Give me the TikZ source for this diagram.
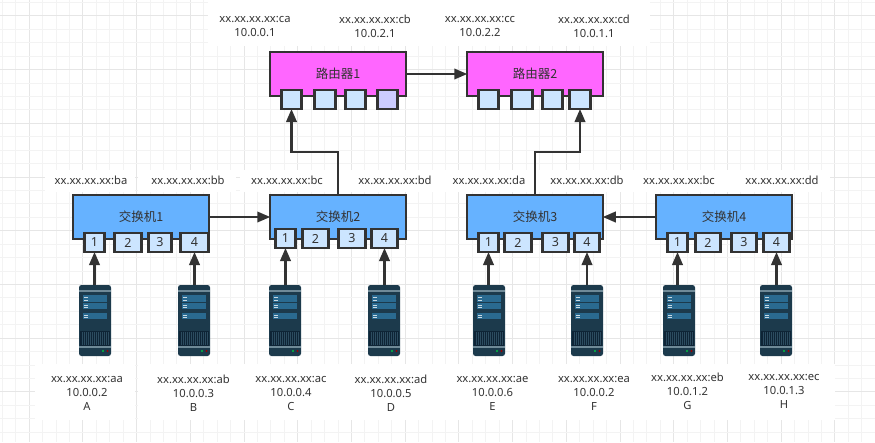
\documentclass[tikz,border=0pt]{standalone}
\usepackage{fontspec}
\setmainfont{Noto Sans}
\newfontfamily\cjkf{Noto Sans CJK SC}
\usetikzlibrary{arrows.meta}
\definecolor{ink}{HTML}{333333}
\definecolor{txt}{HTML}{333333}
\definecolor{gridminor}{HTML}{F3F3F3}
\definecolor{gridmajor}{HTML}{E6E6E6}
\definecolor{swblue}{HTML}{66B2FF}
\definecolor{rtpink}{HTML}{FF66FF}
\definecolor{portblue}{HTML}{CCE5FF}
\definecolor{portpurple}{HTML}{CCCCFF}
\definecolor{srvbody}{HTML}{1C3A4C}
\definecolor{srvband}{HTML}{6F8A98}
\definecolor{srvbar}{HTML}{2A6A90}
\definecolor{srvvent}{HTML}{0E2436}
\definecolor{srvline}{HTML}{2C4C60}
\tikzset{
  unitbox/.style={draw=ink,line width=2.3pt,outer sep=0pt,inner sep=0pt,minimum height=43.5pt,minimum width=135.5pt,text=txt,font=\cjkf\fontsize{12.5}{14}\selectfont},
  switchbox/.style={unitbox,fill=swblue},
  routerbox/.style={unitbox,fill=rtpink},
  portbox/.style={draw=ink,line width=2.2pt,outer sep=0pt,inner sep=0pt,minimum height=19pt,fill=portblue,text=txt,font=\fontsize{12.5}{14}\selectfont},
  maclabel/.style={align=center,inner sep=0pt,text=txt,font=\fontsize{11.2}{14}\selectfont},
  link/.style={draw=ink,line width=2.2pt,-{Triangle[length=13pt,width=10.5pt]}},
  serverbody/.style={fill=srvbody,rounded corners=2.5pt,minimum width=32pt,minimum height=71pt,inner sep=0pt,outer sep=0pt},
  srvdetail/.pic={
    \fill[srvband] (0,5) rectangle (32,7);
    \foreach \ya/\yb in {10/17,18/24,28/34}{
      \fill[srvbar] (4,\ya) rectangle (28,\yb);
      \fill[white!75!srvbar] (4.5,\ya+1.5) rectangle (9,\ya+2.5);
      \fill[white!75!srvbar] (4.5,\yb-2.5) rectangle (9,\yb-1.5);
    }
    \fill[srvvent] (1,46) rectangle (31,61);
    \foreach \k in {3,5,...,29}{\draw[srvline,line width=.5pt] (\k,47) -- (\k,60);}
    \fill[srvband] (0,61) rectangle (32,63);
    \fill[green!50!teal] (24,66) circle (1.1pt);
    \fill[red!60!black] (28.5,66) circle (1.1pt);
  }
}
\begin{document}
\begin{tikzpicture}[x=1pt,y=-1pt]
\useasboundingbox (0,0) rectangle (875,442);
\fill[white] (0,0) rectangle (875,442);
% grid
\foreach \n in {0,...,65}{
  \pgfmathsetmacro{\gx}{2.3+13.43*\n}
  \pgfmathtruncatemacro{\m}{mod(\n,4)}
  \ifnum\m=2 \draw[gridmajor,line width=1pt] (\gx,0) -- (\gx,442);
  \else \draw[gridminor,line width=1pt] (\gx,0) -- (\gx,442);\fi
}
\foreach \n in {0,...,32}{
  \pgfmathsetmacro{\gy}{2.5+13.43*\n}
  \pgfmathtruncatemacro{\m}{mod(\n,4)}
  \ifnum\m=1 \draw[gridmajor,line width=1pt] (0,\gy) -- (875,\gy);
  \else \draw[gridminor,line width=1pt] (0,\gy) -- (875,\gy);\fi
}
% white label backings
\fill[white] (208,0) rectangle (650,46);
\fill[white] (45,170) rectangle (135,192);
\fill[white] (138,170) rectangle (236,192);
\fill[white] (240,170) rectangle (830,192);
\fill[white] (35,364) rectangle (135,420);
\fill[white] (138,364) rectangle (835,420);
% routers
\node[routerbox] (r1) at (338,74) {路由器1};
\node[routerbox] (r2) at (535,74) {路由器2};
\node[portbox,minimum width=20pt,anchor=north] (r1a) at (291.5,90) {};
\node[portbox,minimum width=21pt,anchor=north] (r1b) at (325,90) {};
\node[portbox,minimum width=20pt,anchor=north] (r1c) at (355.5,90) {};
\node[portbox,minimum width=20pt,anchor=north,fill=portpurple] (r1d) at (387.5,90) {};
\node[portbox,minimum width=20pt,anchor=north] (r2a) at (488.5,90) {};
\node[portbox,minimum width=21pt,anchor=north] (r2b) at (522,90) {};
\node[portbox,minimum width=20pt,anchor=north] (r2c) at (552.5,90) {};
\node[portbox,minimum width=21pt,anchor=north] (r2d) at (580,90) {};
% switches
\node[switchbox] (s1) at (141,217) {交换机1};
\node[switchbox] (s2) at (338,217) {交换机2};
\node[switchbox] (s3) at (535,217) {交换机3};
\node[switchbox] (s4) at (724,217) {交换机4};
\node[portbox,minimum width=20pt,anchor=north] (p11) at (94.5,233) {1};
\node[portbox,minimum width=27pt,anchor=north] (p12) at (128,233) {2};
\node[portbox,minimum width=23pt,anchor=north] (p13) at (160,233) {3};
\node[portbox,minimum width=28pt,anchor=north] (p14) at (194.5,233) {4};
\node[portbox,minimum width=20pt,anchor=north] (p21) at (285.5,229) {1};
\node[portbox,minimum width=26pt,anchor=north] (p22) at (315.5,229) {2};
\node[portbox,minimum width=27pt,anchor=north] (p23) at (352,229) {3};
\node[portbox,minimum width=26pt,anchor=north] (p24) at (384.5,229) {4};
\node[portbox,minimum width=20pt,anchor=north] (p31) at (488.5,233) {1};
\node[portbox,minimum width=27pt,anchor=north] (p32) at (518,233) {2};
\node[portbox,minimum width=26pt,anchor=north] (p33) at (555.5,233) {3};
\node[portbox,minimum width=25pt,anchor=north] (p34) at (587,233) {4};
\node[portbox,minimum width=20pt,anchor=north] (p41) at (677.5,233) {1};
\node[portbox,minimum width=25pt,anchor=north] (p42) at (708,233) {2};
\node[portbox,minimum width=25pt,anchor=north] (p43) at (744,233) {3};
\node[portbox,minimum width=26pt,anchor=north] (p44) at (776.5,233) {4};
% servers
\foreach \nm/\cx in {sA/95,sB/194,sC/285,sD/384,sE/489,sF/587,sG/679,sH/776}{
  \node[serverbody] (\nm) at (\cx,320.5) {};
  \pic at (\nm.north west) {srvdetail};
}
% connectors
\draw[link] (r1) -- (r2);
\draw[link] (s1) -- (s2);
\draw[link] (s4) -- (s3);
\draw[link] (s2.north) -- ++(0,-43) -| (r1a.south);
\draw[link] (s3.north) -- ++(0,-43) -| (r2d.south);
\draw[link] (sA.north -| p11.south) -- (p11.south);
\draw[link] (sB.north -| p14.south) -- (p14.south);
\draw[link] (sC.north -| p21.south) -- (p21.south);
\draw[link] (sD.north -| p24.south) -- (p24.south);
\draw[link] (sE.north -| p31.south) -- (p31.south);
\draw[link] (sF.north -| p34.south) -- (p34.south);
\draw[link] (sG.north -| p41.south) -- (p41.south);
\draw[link] (sH.north -| p44.south) -- (p44.south);
% labels: routers
\node[maclabel] (lca) at (255,26.5) {xx.xx.xx.xx:ca\\10.0.0.1};
\node[maclabel] (lcb) at (375,26.5) {xx.xx.xx.xx:cb\\10.0.2.1};
\node[maclabel] (lcc) at (480,26.5) {xx.xx.xx.xx:cc\\10.0.2.2};
\node[maclabel] (lcd) at (594,26.5) {xx.xx.xx.xx:cd\\10.0.1.1};
% labels: switches
\node[maclabel] (lba) at (91,180) {xx.xx.xx.xx:ba};
\node[maclabel] (lbb) at (188,180) {xx.xx.xx.xx:bb};
\node[maclabel] (lbc) at (287,180) {xx.xx.xx.xx:bc};
\node[maclabel] (lbd) at (395,180) {xx.xx.xx.xx:bd};
\node[maclabel] (lda) at (489,180) {xx.xx.xx.xx:da};
\node[maclabel] (ldb) at (587,180) {xx.xx.xx.xx:db};
\node[maclabel] (lbe) at (679,180) {xx.xx.xx.xx:bc};
\node[maclabel] (ldd) at (782,180) {xx.xx.xx.xx:dd};
% labels: hosts
\node[maclabel] (laa) at (87,393.5) {xx.xx.xx.xx:aa\\10.0.0.2\\A};
\node[maclabel] (lab) at (193.5,393.5) {xx.xx.xx.xx:ab\\10.0.0.3\\B};
\node[maclabel] (lac) at (291,393.5) {xx.xx.xx.xx:ac\\10.0.0.4\\C};
\node[maclabel] (lad) at (391,393.5) {xx.xx.xx.xx:ad\\10.0.0.5\\D};
\node[maclabel] (lae) at (492.5,393.5) {xx.xx.xx.xx:ae\\10.0.0.6\\E};
\node[maclabel] (lea) at (594,393.5) {xx.xx.xx.xx:ea\\10.0.0.2\\F};
\node[maclabel] (leb) at (687.5,391) {xx.xx.xx.xx:eb\\10.0.1.2\\G};
\node[maclabel] (lec) at (784,391) {xx.xx.xx.xx:ec\\10.0.1.3\\H};
\end{tikzpicture}
\end{document}
